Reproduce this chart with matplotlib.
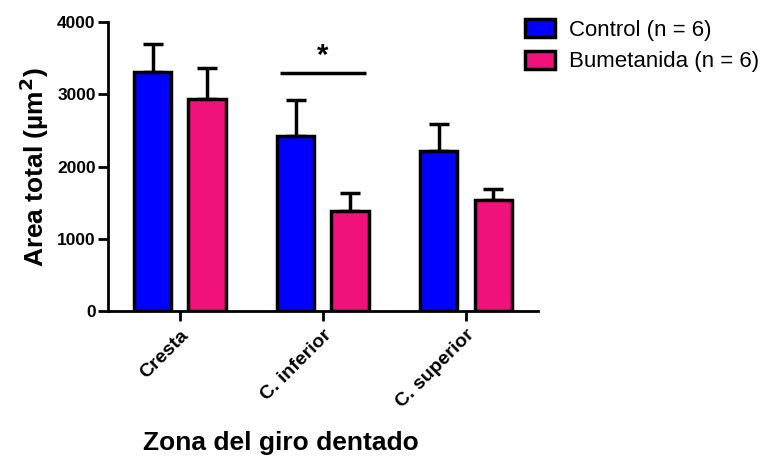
import numpy as np
import matplotlib
matplotlib.use("Agg")
import matplotlib.pyplot as plt

plt.rcParams["font.family"] = ["Liberation Sans", "DejaVu Sans"]
plt.rcParams["font.weight"] = "bold"

zones = ["Cresta", "C. inferior", "C. superior"]
control = [3310, 2420, 2210]
control_sem = [390, 500, 380]
bumetanida = [2940, 1390, 1535]
bumetanida_sem = [425, 245, 160]
series_labels = ["Control (n = 6)", "Bumetanida (n = 6)"]

fig = plt.figure(figsize=(7.67, 4.59), dpi=100)
ax = fig.add_axes([0.141, 0.322, 0.560, 0.630])

x = np.arange(len(zones))
w = 0.26
off = 0.19
err_kw = dict(ecolor="black", elinewidth=2.5, capsize=7, capthick=2.5)

ax.bar(x - off, control, w, color="#0000ff", edgecolor="black", linewidth=2.5,
       label=series_labels[0], zorder=3)
ax.errorbar(x - off, control, yerr=[np.zeros(3), control_sem], fmt="none", zorder=2, **err_kw)
ax.bar(x + off, bumetanida, w, color="#f0127a", edgecolor="black", linewidth=2.5,
       label=series_labels[1], zorder=3)
ax.errorbar(x + off, bumetanida, yerr=[np.zeros(3), bumetanida_sem], fmt="none", zorder=2, **err_kw)

# significance bar over C. inferior
ax.plot([0.7, 1.3], [3290, 3290], color="black", lw=2.5, solid_capstyle="butt")
ax.text(1, 3340, "*", ha="center", va="bottom", fontsize=21, fontweight="bold")

ax.set_xlim(-0.5, 2.5)
ax.set_ylim(0, 4000)
ax.set_yticks([0, 1000, 2000, 3000, 4000])
ax.set_xticks(x)
ax.set_xticklabels(zones, rotation=45, ha="right", rotation_mode="anchor",
                   fontsize=14, fontweight="bold")
for lbl in ax.get_yticklabels():
    lbl.set_fontsize(12.5)
    lbl.set_fontweight("bold")

for s in ["top", "right"]:
    ax.spines[s].set_visible(False)
for s in ["left", "bottom"]:
    ax.spines[s].set_linewidth(2)
ax.tick_params(axis="both", width=2, length=7, direction="out", pad=2)
ax.tick_params(axis="x", pad=4)

ax.set_ylabel("Area total (µm$^\\mathbf{2}$)", fontsize=19, fontweight="bold", labelpad=4)
fig.text(0.366, 0.035, "Zona del giro dentado", ha="center", va="center",
         fontsize=19, fontweight="bold")

leg = fig.legend(loc="upper left", bbox_to_anchor=(0.659, 1.003), frameon=False,
                 handlelength=1.35, handleheight=0.9,
                 handletextpad=0.6, labelspacing=0.45,
                 prop={"size": 16, "weight": "normal"})

fig.savefig("out.png", dpi=100)
